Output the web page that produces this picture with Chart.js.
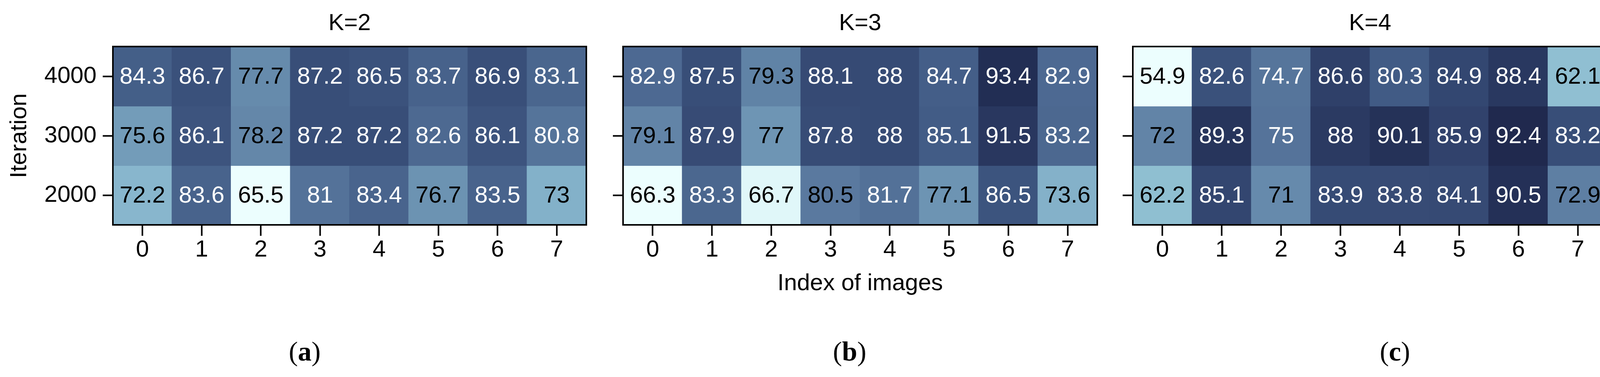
<!DOCTYPE html>
<html>
<head>
<meta charset="utf-8">
<script src="https://cdn.jsdelivr.net/npm/chart.js@4.4.1/dist/chart.umd.min.js"></script>
<style>
    body { margin: 0; background: #fff; }
    #wrap { position: relative; width: 4415px; height: 964px; }
    #wrap canvas { position: absolute; left: 0; top: 0; }
</style>
</head>
<body>
<div id="wrap">
    <canvas id="k2" width="4415" height="964"></canvas>
    <canvas id="k3" width="4415" height="964"></canvas>
    <canvas id="k4" width="4415" height="964"></canvas>
    <canvas id="cbar" width="4415" height="964"></canvas>
</div>
<script>
// ---------------- data ----------------
const imageIndex = ["0", "1", "2", "3", "4", "5", "6", "7"];
const iterations = ["4000", "3000", "2000"];   // top row first

const accK2 = [
    [84.3, 86.7, 77.7, 87.2, 86.5, 83.7, 86.9, 83.1],
    [75.6, 86.1, 78.2, 87.2, 87.2, 82.6, 86.1, 80.8],
    [72.2, 83.6, 65.5, 81, 83.4, 76.7, 83.5, 73]
];
const accK3 = [
    [82.9, 87.5, 79.3, 88.1, 88, 84.7, 93.4, 82.9],
    [79.1, 87.9, 77, 87.8, 88, 85.1, 91.5, 83.2],
    [66.3, 83.3, 66.7, 80.5, 81.7, 77.1, 86.5, 73.6]
];
const accK4 = [
    [54.9, 82.6, 74.7, 86.6, 80.3, 84.9, 88.4, 62.1],
    [72, 89.3, 75, 88, 90.1, 85.9, 92.4, 83.2],
    [62.2, 85.1, 71, 83.9, 83.8, 84.1, 90.5, 72.9]
];

const colorMax = 100;
const colorbarTicks = [60, 80, 100];

// ---------------- style ----------------
const W = 4415, H = 964;
const FONT = "'Liberation Sans', Arial, Helvetica, sans-serif";
const SERIF = "'Liberation Serif', 'Times New Roman', serif";
const PLOT_TOP = 119, PLOT_BOTTOM = 575;

Chart.defaults.font.family = FONT;
Chart.defaults.color = "#000";

// light cyan -> steel blue -> navy -> almost black
const cmapStops = [
    [0.000, "#ecfefe"],
    [0.058, "#b0dde5"],
    [0.112, "#9acbd9"],
    [0.224, "#82afc8"],
    [0.335, "#6a90b0"],
    [0.446, "#55739a"],
    [0.557, "#425c86"],
    [0.668, "#334670"],
    [0.778, "#253259"],
    [0.889, "#1a1f42"],
    [1.000, "#05071c"]
];

function hexRgb(h){
    return [1, 3, 5].map(i => parseInt(h.substr(i, 2), 16));
}

function cmap(t){
    t = Math.max(0, Math.min(1, t));
    for (let i = 1; i < cmapStops.length; i++) {
        const [t1, c1] = cmapStops[i];
        if (t <= t1) {
            const [t0, c0] = cmapStops[i - 1];
            const f = (t - t0) / (t1 - t0);
            const a = hexRgb(c0), b = hexRgb(c1);
            const rgb = a.map((v, k) => Math.round(v + (b[k] - v) * f));
            return `rgb(${rgb.join(",")})`;
        }
    }
    return cmapStops[cmapStops.length - 1][1];
}


// ======================================
// PLUGINS
// ======================================

const frame = {
    id: "frame",
    afterDraw(chart){
        const a = chart.chartArea;
        const ctx = chart.ctx;
        ctx.save();
        ctx.strokeStyle = "#000";
        ctx.lineWidth = 4;
        ctx.strokeRect(a.left, a.top, a.right - a.left, a.bottom - a.top);
        ctx.restore();
    }
};

const cellText = {
    id: "cellText",
    afterDatasetsDraw(chart){
        const ctx = chart.ctx;
        ctx.save();
        ctx.font = `60px ${FONT}`;
        ctx.textAlign = "center";
        ctx.textBaseline = "middle";
        chart.data.datasets.forEach((ds, di) => {
            chart.getDatasetMeta(di).data.forEach((bar, j) => {
                ctx.fillStyle = ds.norm[j] > 0.43 ? "#fff" : "#000";
                ctx.fillText(String(ds.heat[j]), bar.x, (bar.y + bar.base) / 2 + 2);
            });
        });
        ctx.restore();
    }
};

const caption = {
    id: "caption",
    afterDraw(chart, args, opts){
        if (!opts.letter) return;
        const ctx = chart.ctx;
        ctx.save();
        ctx.textBaseline = "middle";
        ctx.textAlign = "left";
        ctx.fillStyle = "#000";
        const normal = `70px ${SERIF}`, bold = `bold 70px ${SERIF}`;
        const parts = [["(", normal], [opts.letter, bold], [")", normal]];
        let total = 0;
        parts.forEach(([s, f]) => { ctx.font = f; total += ctx.measureText(s).width; });
        let x = opts.x - total / 2;
        parts.forEach(([s, f]) => {
            ctx.font = f;
            ctx.fillText(s, x, opts.y);
            x += ctx.measureText(s).width;
        });
        ctx.restore();
    }
};


// ======================================
// HEATMAP PANEL
// ======================================

function heatmap(id, title, values, cfg){

    const lo = Math.min(...values.flat());

    const datasets = iterations.map((it, i) => ({
        label: it,
        data: values[i].map(() => [2 - i, 3 - i]),
        heat: values[i],
        norm: values[i].map(v => (v - lo) / (colorMax - lo)),
        backgroundColor: values[i].map(v => cmap((v - lo) / (colorMax - lo))),
        borderWidth: 0,
        inflateAmount: 1,
        barPercentage: 1,
        categoryPercentage: 1,
        grouped: false
    }));

    const tickFont = { family: FONT, size: 60 };

    new Chart(document.getElementById(id), {
        type: "bar",
        data: { labels: imageIndex, datasets: datasets },
        plugins: [frame, cellText, caption],
        options: {
            responsive: false,
            animation: false,
            events: [],
            layout: {
                padding: {
                    left: cfg.left - cfg.yWidth,
                    right: W - cfg.right,
                    top: 24,
                    bottom: H - PLOT_BOTTOM - 200
                }
            },
            plugins: {
                legend: { display: false },
                tooltip: { enabled: false },
                title: {
                    display: true,
                    text: title,
                    fullSize: false,
                    color: "#000",
                    font: { family: FONT, size: 60, weight: "normal" },
                    padding: { top: 0, bottom: 23 }
                },
                caption: { letter: cfg.letter, x: cfg.capX, y: 904 }
            },
            scales: {
                x: {
                    offset: true,
                    grid: {
                        offset: false,
                        drawOnChartArea: false,
                        tickLength: 28,
                        tickWidth: 4,
                        tickColor: "#000"
                    },
                    border: { display: false },
                    ticks: {
                        color: "#000",
                        font: tickFont,
                        padding: 0,
                        maxRotation: 0,
                        autoSkip: false
                    },
                    title: {
                        display: !!cfg.xTitle,
                        text: cfg.xTitle || "",
                        color: "#000",
                        font: tickFont,
                        padding: { top: 0, bottom: 14 }
                    },
                    afterFit: s => { s.height = 200; }
                },
                y: {
                    min: 0,
                    max: 3,
                    afterBuildTicks: s => {
                        s.ticks = iterations.map((_, i) => ({ value: 2.5 - i }));
                    },
                    grid: {
                        drawOnChartArea: false,
                        tickLength: 26,
                        tickWidth: 4,
                        tickColor: "#000"
                    },
                    border: { display: false },
                    ticks: {
                        display: !!cfg.yLabels,
                        color: "#000",
                        font: tickFont,
                        padding: 16,
                        callback: v => iterations[Math.round(2.5 - v)]
                    },
                    title: {
                        display: !!cfg.yTitle,
                        text: cfg.yTitle || "",
                        color: "#000",
                        font: tickFont,
                        padding: { top: 14, bottom: 0 }
                    },
                    afterFit: s => { s.width = cfg.yWidth; }
                }
            }
        }
    });

}


// ======================================
// COLORBAR
// ======================================

function colorbar(id, values){

    const lo = Math.min(...values.flat());

    new Chart(document.getElementById(id), {
        type: "bar",
        data: {
            labels: [""],
            datasets: [{
                data: [[lo, colorMax]],
                backgroundColor: ctx => {
                    const y = ctx.chart.scales.y;
                    if (!y || !ctx.chart.chartArea) return "transparent";
                    const y0 = y.getPixelForValue(lo), y1 = y.getPixelForValue(colorMax);
                    if (!isFinite(y0) || !isFinite(y1)) return "transparent";
                    const g = ctx.chart.ctx.createLinearGradient(0, y0, 0, y1);
                    cmapStops.forEach(([t, c]) => g.addColorStop(t, c));
                    return g;
                },
                borderWidth: 0,
                barPercentage: 1,
                categoryPercentage: 1
            }]
        },
        plugins: [frame],
        options: {
            responsive: false,
            animation: false,
            events: [],
            layout: {
                padding: { left: 4145, right: W - 4244 - 160, top: PLOT_TOP, bottom: H - PLOT_BOTTOM }
            },
            plugins: { legend: { display: false }, tooltip: { enabled: false } },
            scales: {
                x: { display: false },
                y: {
                    position: "right",
                    min: lo,
                    max: colorMax,
                    afterBuildTicks: s => {
                        s.ticks = colorbarTicks.map(v => ({ value: v }));
                    },
                    grid: {
                        drawOnChartArea: false,
                        tickLength: 26,
                        tickWidth: 4,
                        tickColor: "#000"
                    },
                    border: { display: false },
                    ticks: {
                        color: "#000",
                        font: { family: FONT, size: 60 },
                        padding: 16
                    },
                    afterFit: s => { s.width = 160; }
                }
            }
        }
    });

}


heatmap("k2", "K=2", accK2, { left: 289, right: 1501, yWidth: 289, yLabels: true, yTitle: "Iteration", letter: "a", capX: 780 });
heatmap("k3", "K=3", accK3, { left: 1595, right: 2809, yWidth: 100, xTitle: "Index of images", letter: "b", capX: 2175 });
heatmap("k4", "K=4", accK4, { left: 2900, right: 4115, yWidth: 100, letter: "c", capX: 3571 });
colorbar("cbar", accK4);
</script>
</body>
</html>
